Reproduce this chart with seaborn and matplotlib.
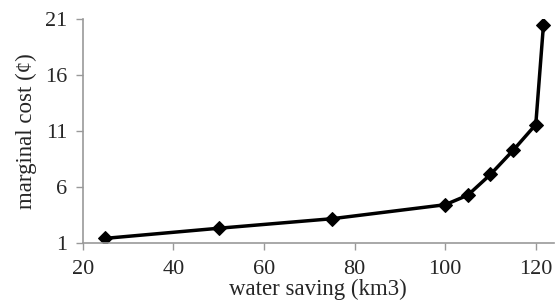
import matplotlib
matplotlib.use('Agg')
import matplotlib.pyplot as plt
import seaborn as sns
import pandas as pd

# dados
water_saving = [25, 50, 75, 100, 105, 110, 115, 120, 121.7]
marginal_cost = [1.45, 2.35, 3.2, 4.45, 5.3, 7.15, 9.3, 11.6, 20.5]
y_ticks = [1, 6, 11, 16, 21]
x_ticks = [20, 40, 60, 80, 100, 120]

df = pd.DataFrame({'water saving': water_saving, 'marginal cost': marginal_cost})

sns.set_style('white')
plt.rcParams['font.family'] = ['Liberation Serif', 'DejaVu Serif']

fig = plt.figure(figsize=(5.55, 3.05), dpi=100)
ax = fig.add_axes([0.149, 0.202, 0.849, 0.735])

sns.lineplot(data=df, x='water saving', y='marginal cost', ax=ax, color='black',
             linewidth=2.5, marker='D', markersize=7, markeredgecolor='black')

ax.set_xlim(20, 124)
ax.set_ylim(1, 21)
ax.set_xticks(x_ticks)
ax.set_yticks(y_ticks)
ax.tick_params(labelsize=16, length=5, color='#999999', width=1, direction='out',
               bottom=True, left=True)
ax.tick_params(axis='x', pad=7)
ax.tick_params(axis='y', pad=6)
for s in ['top', 'right']:
    ax.spines[s].set_visible(False)
for s in ['left', 'bottom']:
    ax.spines[s].set_color('#999999')
    ax.spines[s].set_linewidth(1.2)

ax.set_xlabel('water saving (km3)', fontsize=16.5, labelpad=0)
ax.set_ylabel('marginal cost (¢)', fontsize=16.5, labelpad=6)

fig.savefig('out.png', dpi=100)
